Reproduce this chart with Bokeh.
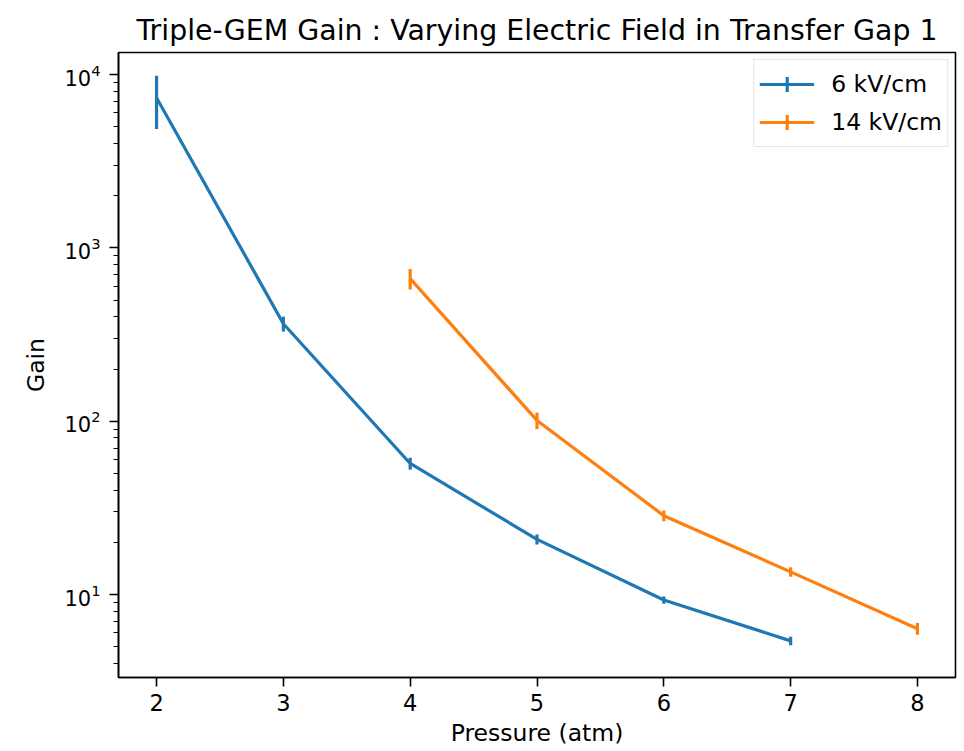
from bokeh.plotting import figure
from bokeh.models import (ColumnDataSource, Range1d, FixedTicker, LogTickFormatter,
                          Legend, LegendItem)
from bokeh.embed import file_html
from bokeh.resources import INLINE

# ---- data ----
pressure_6 = [2, 3, 4, 5, 6, 7]
gain_6 = [7350, 365, 57, 20.8, 9.3, 5.4]
err_6 = [2500, 36, 4.5, 1.4, 0.45, 0.3]

pressure_14 = [4, 5, 6, 7, 8]
gain_14 = [665, 101, 28.5, 13.5, 6.35]
err_14 = [90, 11, 2.0, 0.85, 0.5]

labels = ["6 kV/cm", "14 kV/cm"]
colors = ["#1f77b4", "#ff7f0e"]

x_ticks = [2, 3, 4, 5, 6, 7, 8]
y_major = [10, 100, 1000, 10000]
y_minor = [m * d for d in [1, 10, 100, 1000] for m in range(2, 10)]

FONT = "DejaVu Sans"

p = figure(width=964, height=751, output_backend="svg", toolbar_location=None,
           y_axis_type="log", x_range=Range1d(1.7, 8.3), y_range=Range1d(3.32, 13400),
           min_border_left=118, min_border_right=9, min_border_top=52, min_border_bottom=74)
p.title.text = "Triple-GEM Gain : Varying Electric Field in Transfer Gap 1"
p.title.align = "center"
p.title.text_font = FONT
p.title.text_font_size = "28.4px"
p.title.text_font_style = "normal"
p.title.text_color = "#000000"
p.title.standoff = 11

p.xgrid.visible = False
p.ygrid.visible = False
p.outline_line_color = "black"
p.outline_line_width = 1.6
p.background_fill_color = "white"
p.border_fill_color = "white"

for ax in (p.xaxis[0], p.yaxis[0]):
    ax.axis_line_color = "black"
    ax.axis_line_width = 1.6
    ax.major_tick_line_width = 1.6
    ax.minor_tick_line_width = 1.2
    ax.major_tick_out = 9
    ax.major_tick_in = 0
    ax.minor_tick_out = 5
    ax.minor_tick_in = 0
    ax.major_label_text_font = FONT
    ax.major_label_text_color = "black"
    ax.axis_label_text_font = FONT
    ax.axis_label_text_font_size = "23.5px"
    ax.axis_label_text_font_style = "normal"
    ax.axis_label_text_color = "black"

p.xaxis.ticker = FixedTicker(ticks=x_ticks)
p.xaxis[0].minor_tick_out = 0
p.xaxis.major_label_text_font_size = "22.5px"
p.xaxis.major_label_standoff = 7
p.xaxis.axis_label = "Pressure (atm)"
p.xaxis.axis_label_standoff = 5
p.yaxis.ticker = FixedTicker(ticks=y_major, minor_ticks=y_minor)
p.yaxis.formatter = LogTickFormatter()
p.yaxis.major_label_text_font_size = "21px"
p.yaxis.axis_label = "Gain"
p.yaxis.axis_label_standoff = 11
p.yaxis.major_label_standoff = 9

items = []
for xs, ys, es, lab, col in [(pressure_6, gain_6, err_6, labels[0], colors[0]),
                             (pressure_14, gain_14, err_14, labels[1], colors[1])]:
    src = ColumnDataSource(dict(x=xs, y=ys,
                                lo=[y - e for y, e in zip(ys, es)],
                                hi=[y + e for y, e in zip(ys, es)]))
    ln = p.line("x", "y", source=src, line_color=col, line_width=3.2)
    p.segment(x0="x", y0="lo", x1="x", y1="hi", source=src, line_color=col, line_width=3.2)
    # zero-size cross: draws nothing in the plot, gives the legend its errorbar "+" symbol
    mk = p.scatter("x", "y", source=src, marker="cross", size=0,
                   line_color=col, line_width=3.2)
    items.append(LegendItem(label=lab, renderers=[ln, mk]))

legend = Legend(items=items, location="top_right")
legend.label_text_font = FONT
legend.label_text_font_size = "23.5px"
legend.label_text_color = "black"
legend.glyph_width = 55
legend.glyph_height = 38
legend.label_height = 34
legend.spacing = -2
legend.padding = 5
legend.margin = 7
legend.label_standoff = 17
legend.border_line_color = "#cccccc"
legend.border_line_width = 1.2
legend.background_fill_alpha = 0.8
p.add_layout(legend)

open("out.html", "w").write(file_html(p, INLINE))
